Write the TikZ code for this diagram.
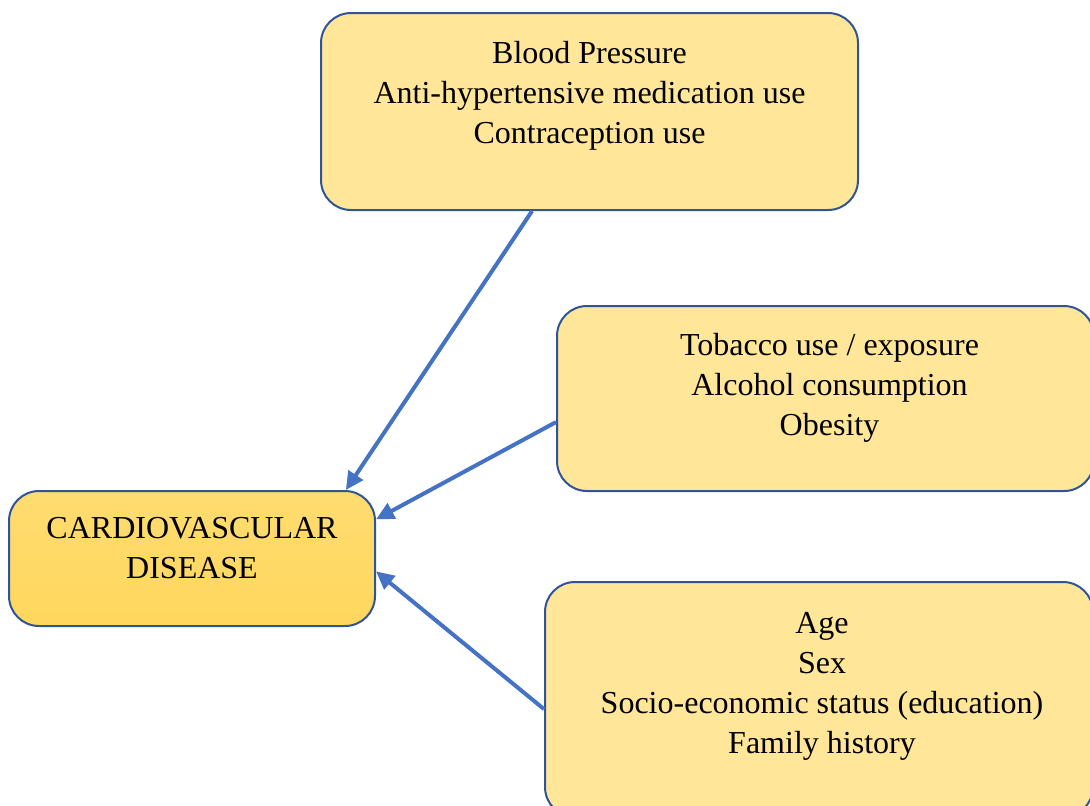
\documentclass[tikz,border=0pt]{standalone}
\usepackage{fontspec}
\setmainfont{Liberation Serif}
\usetikzlibrary{arrows.meta}
\definecolor{boxfill}{HTML}{FFE699}
\definecolor{cvdtop}{HTML}{FFDC70}
\definecolor{cvdbot}{HTML}{FFD75E}
\definecolor{boxline}{HTML}{2F5597}
\definecolor{arrowblue}{HTML}{4472C4}
\begin{document}
\begin{tikzpicture}[x=0.5pt,y=-0.5pt,
  factor/.style={draw=boxline,line width=1pt,rounded corners=15pt,fill=boxfill,anchor=north west,inner sep=0pt},
  factortext/.style={anchor=north,align=center,inner sep=0pt,font=\fontsize{16}{20}\selectfont},
  link/.style={draw=arrowblue,line width=2pt,-{Triangle[length=9pt,width=8.5pt]}}]
  \useasboundingbox (0,0) rectangle (1090,805);
  \clip (0,0) rectangle (1090,805);
  % boxes
  \node[factor,minimum width=268.5pt,minimum height=98.5pt] (bp) at (320,12) {};
  \node[factor,minimum width=268.5pt,minimum height=92.5pt] (life) at (556,305) {};
  \node[factor,minimum width=274pt,minimum height=117.5pt] (demo) at (544,581) {};
  \node[factor,fill=none,top color=cvdtop,bottom color=cvdbot,minimum width=183pt,minimum height=67.5pt] (cvd) at (8,490) {};
  % texts
  \node[factortext] (bptext) at ([yshift=-14.5pt]bp.north) {Blood Pressure\\Anti-hypertensive medication use\\Contraception use};
  \node[factortext] (lifetext) at ([xshift=2pt,yshift=-14pt]life.north) {Tobacco use / exposure\\Alcohol consumption\\Obesity};
  \node[factortext] (demotext) at ([xshift=1.5pt,yshift=-15.5pt]demo.north) {Age\\Sex\\Socio-economic status (education)\\Family history};
  \node[factortext] (cvdtext) at ([yshift=-13.5pt]cvd.north) {CARDIOVASCULAR\\DISEASE};
  % arrows
  \draw[link] (bp.240) -- (cvd.24.7);
  \draw[link] (life.185) -- (cvd.12);
  \draw[link] (demo.182.5) -- (cvd.-4.5);
\end{tikzpicture}
\end{document}
